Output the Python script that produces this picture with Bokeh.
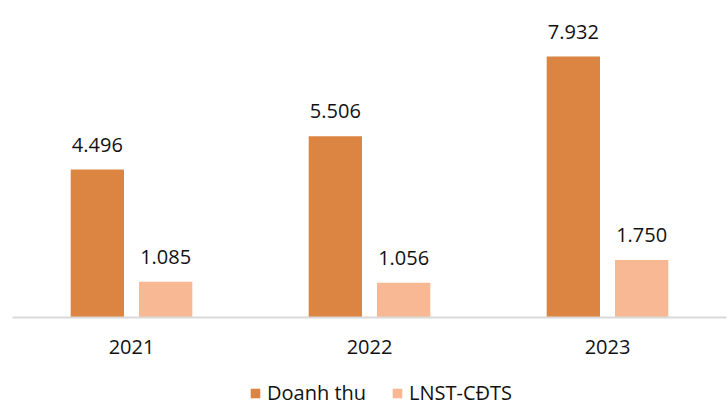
from bokeh.plotting import figure
from bokeh.layouts import column
from bokeh.models import ColumnDataSource, FactorRange, Legend, LegendItem
from bokeh.transform import dodge
from bokeh.core.properties import value
from bokeh.embed import file_html
from bokeh.resources import INLINE

years = ["2021", "2022", "2023"]
doanh_thu = [4496, 5506, 7932]
lnst = [1085, 1056, 1750]
series_names = ["Doanh thu", "LNST-CĐTS"]

def fmt(v):
    return f"{v:,}".replace(",", ".")

src = ColumnDataSource(dict(
    year=years,
    dt=doanh_thu,
    ln=lnst,
    dt_lbl=[fmt(v) for v in doanh_thu],
    ln_lbl=[fmt(v) for v in lnst],
))

FONT = "Open Sans"
ORANGE = "#DC8543"
PEACH = "#F9B894"
TXT = "#111111"

p = figure(x_range=FactorRange(*years), y_range=(0, 9270),
           width=728, height=366, output_backend="svg", toolbar_location=None,
           min_border_left=12, min_border_right=2, min_border_top=12, min_border_bottom=49)

r1 = p.vbar(x=dodge("year", -0.1435, range=p.x_range), top="dt", width=0.224,
            source=src, fill_color=ORANGE, line_color=None)
r2 = p.vbar(x=dodge("year", 0.1435, range=p.x_range), top="ln", width=0.224,
            source=src, fill_color=PEACH, line_color=None)

p.text(x=dodge("year", -0.1435, range=p.x_range), y="dt", text="dt_lbl", source=src,
       text_align="center", text_baseline="alphabetic", y_offset=-25,
       text_font=value(FONT), text_font_size="20px", text_color=TXT)
p.text(x=dodge("year", 0.1435, range=p.x_range), y="ln", text="ln_lbl", source=src,
       text_align="center", text_baseline="alphabetic", y_offset=-25,
       text_font=value(FONT), text_font_size="20px", text_color=TXT)

p.xgrid.visible = False
p.ygrid.visible = False
p.yaxis.visible = False
p.outline_line_color = None

ax = p.xaxis[0]
ax.axis_line_color = "#D9D9D9"
ax.axis_line_width = 2
ax.major_tick_line_color = None
ax.minor_tick_line_color = None
ax.major_label_standoff = 16
ax.major_label_text_font = FONT
ax.major_label_text_font_size = "20px"
ax.major_label_text_color = TXT

# legend strip
p2 = figure(x_range=(0, 1), y_range=(0, 1), width=728, height=40,
            output_backend="svg", toolbar_location=None,
            min_border_left=0, min_border_right=0, min_border_top=0, min_border_bottom=0)
p2.axis.visible = False
p2.grid.visible = False
p2.outline_line_color = None
key_src = ColumnDataSource(dict(x=[0.5], top=[0]))  # zero-height keys, used only for the legend swatches
l1 = p2.vbar(x="x", top="top", width=0.1, source=key_src, fill_color=ORANGE, line_color=None)
l2 = p2.vbar(x="x", top="top", width=0.1, source=key_src, fill_color=PEACH, line_color=None)

legend = Legend(items=[LegendItem(label=series_names[0], renderers=[l1]),
                       LegendItem(label=series_names[1], renderers=[l2])],
                orientation="horizontal", location=(237, 0),
                label_text_font=FONT, label_text_font_size="20px",
                label_text_color=TXT, label_text_line_height=0.8, label_height=12,
                glyph_width=12, glyph_height=12, spacing=25,
                border_line_color=None, background_fill_alpha=0,
                padding=0, margin=0, label_standoff=6)
p2.add_layout(legend)

layout = column(p, p2, spacing=0)
open("out.html", "w").write(file_html(layout, INLINE))
